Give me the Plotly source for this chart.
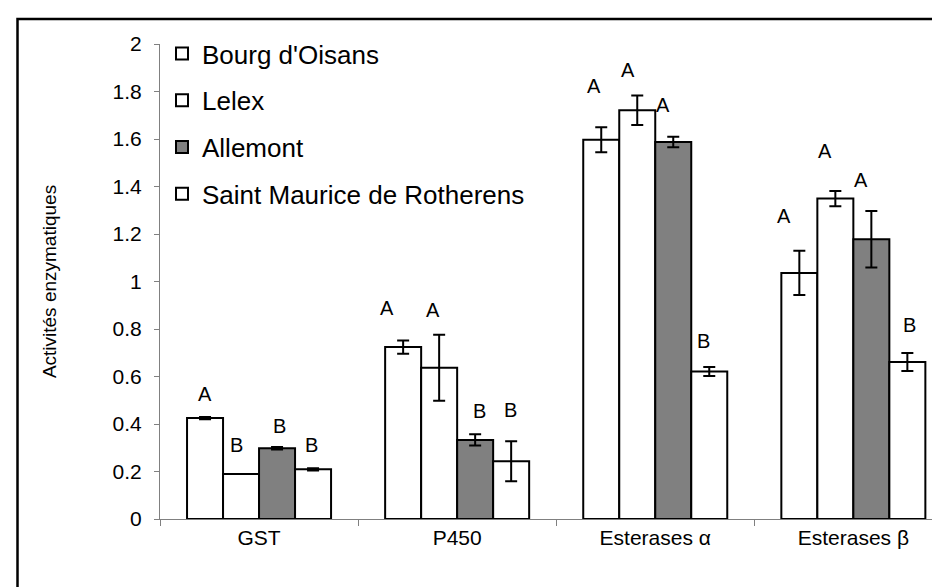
import plotly.graph_objects as go

categories = ["GST", "P450", "Esterases α", "Esterases β"]
series_names = ["Bourg d'Oisans", "Lelex", "Allemont", "Saint Maurice de Rotherens"]

bourg = [0.425, 0.724, 1.597, 1.036]
lelex = [0.189, 0.637, 1.721, 1.349]
allemont = [0.298, 0.333, 1.587, 1.178]
saint_maurice = [0.209, 0.243, 0.621, 0.661]

bourg_err = [0.005, 0.028, 0.053, 0.093]
lelex_err = [0.0, 0.139, 0.062, 0.032]
allemont_err = [0.005, 0.024, 0.022, 0.119]
saint_maurice_err = [0.005, 0.084, 0.019, 0.038]

# significance letters per series (rows) and category (columns)
letters = [
    ["A", "A", "A", "A"],
    ["B", "A", "A", "A"],
    ["B", "B", "A", "A"],
    ["B", "B", "B", "B"],
]
# label placement (height in data units, horizontal offset in category units)
letter_y = [
    [0.526, 0.888, 1.823, 1.277],
    [0.312, 0.881, 1.892, 1.548],
    [0.392, 0.455, 1.743, 1.429],
    [0.312, 0.460, 0.749, 0.818],
]
letter_dx_cat = [
    [-0.275, -0.355, -0.307, -0.348],
    [-0.115, -0.12, -0.14, -0.143],
    [0.103, 0.112, 0.037, 0.038],
    [0.265, 0.268, 0.244, 0.283],
]

values = [bourg, lelex, allemont, saint_maurice]
errors = [bourg_err, lelex_err, allemont_err, saint_maurice_err]
fills = ["#FFFFFF", "#FFFFFF", "#808080", "#FFFFFF"]

FONT = "Liberation Sans, Arial, sans-serif"

fig = go.Figure()
for i, name in enumerate(series_names):
    fig.add_trace(go.Bar(
        x=categories, y=values[i], name=name,
        marker=dict(color=fills[i], line=dict(color="black", width=2)),
        error_y=dict(type="data", array=errors[i], visible=True,
                     color="black", thickness=2, width=6),
        legendgroup=name,
    ))

for i in range(4):
    for j in range(4):
        fig.add_annotation(
            x=j + letter_dx_cat[i][j], y=letter_y[i][j], text=letters[i][j],
            showarrow=False, xref="x", yref="y",
            font=dict(family=FONT, size=20, color="black"),
        )

L, T, B = 152, 36, 76
W, H = 940, 587
pw = W - L
ph = H - T - B
cat_px = 198.1

def px_x(p):
    return (p - L) / pw

def px_y(p):
    return (H - B - p) / ph

fig.add_shape(type="rect", xref="paper", yref="paper",
              x0=px_x(9.5), x1=px_x(938), y0=px_y(620), y1=px_y(11),
              line=dict(color="black", width=2.5), fillcolor="rgba(0,0,0,0)",
              layer="below")

fig.update_layout(
    width=W, height=H,
    margin=dict(l=L, r=0, t=T, b=B, pad=0),
    paper_bgcolor="white", plot_bgcolor="white",
    barmode="group", bargap=0.273, bargroupgap=0,
    font=dict(family=FONT, size=20, color="black"),
    showlegend=True,
    legend=dict(x=px_x(154), y=px_y(22), xanchor="left", yanchor="top",
                bgcolor="rgba(0,0,0,0)", font=dict(size=26, family=FONT),
                tracegroupgap=10, itemclick=False),
    xaxis=dict(range=[-0.5, -0.5 + pw / cat_px], showline=True, linecolor="#808080",
               linewidth=1, ticks="outside", tickson="boundaries", ticklen=6,
               tickcolor="#808080", showgrid=False, zeroline=False,
               tickfont=dict(size=21, family=FONT, color="black")),
    yaxis=dict(range=[0, 2], dtick=0.2, tickformat="~g", showline=True,
               linecolor="#808080", linewidth=1, ticks="outside", ticklen=5,
               tickcolor="#808080", showgrid=False, zeroline=False,
               ticklabelstandoff=8,
               tickfont=dict(size=21, family=FONT, color="black"),
               title=dict(text="Activités enzymatiques", standoff=50,
                          font=dict(size=19, family=FONT, color="black"))),
)

fig.write_html("out.html")
